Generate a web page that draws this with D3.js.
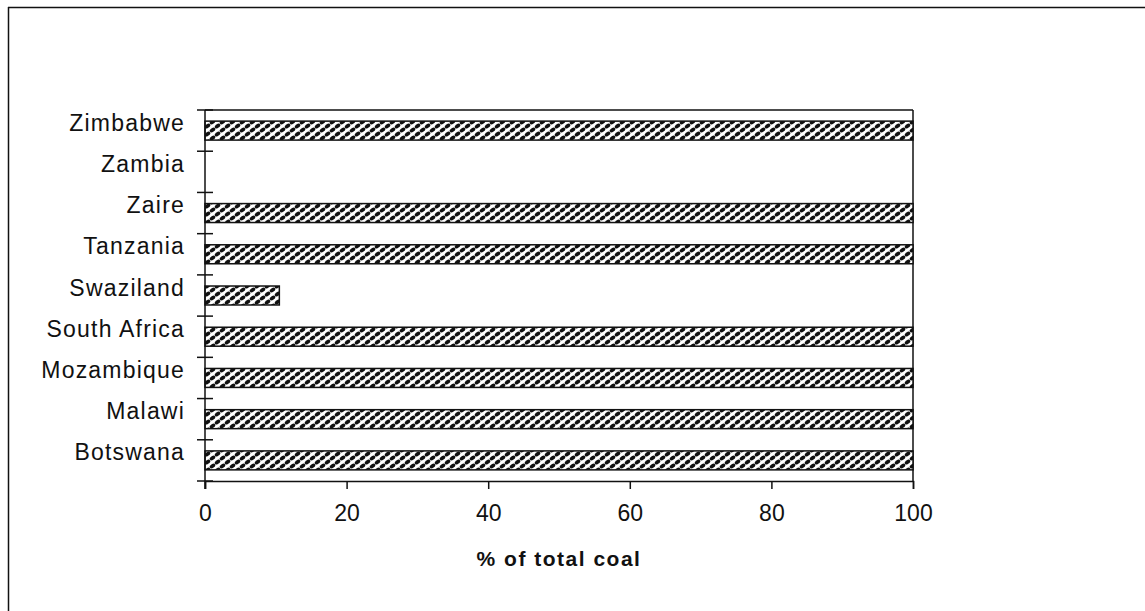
<!DOCTYPE html>
<meta charset="utf-8">
<script src="https://d3js.org/d3.v7.min.js"></script>
<style>
  body { margin: 0; background: #fff; }
  text { font-family: Arial, "Liberation Sans", sans-serif; }
</style>
<body>
<svg id="chart" width="1145" height="611"></svg>
<script>
// categories bottom to top, as in the picture
var countries = ["Botswana", "Malawi", "Mozambique", "South Africa", "Swaziland",
                 "Tanzania", "Zaire", "Zambia", "Zimbabwe"];
var coalShare = [100, 100, 100, 100, 10.5, 100, 100, 0, 100];
var xTicks = [0, 20, 40, 60, 80, 100];
var xTitle = "% of total coal";

var svg = d3.select("#chart");
var plotL = 205, plotR = 913, plotT = 110, plotB = 481;

// page frame (only top and left edges show in the scan)
svg.append("line").attr("x1", 8).attr("x2", 1145).attr("y1", 7.5).attr("y2", 7.5)
  .attr("stroke", "#111").attr("stroke-width", 1.5);
svg.append("line").attr("x1", 8.5).attr("x2", 8.5).attr("y1", 7).attr("y2", 611)
  .attr("stroke", "#111").attr("stroke-width", 1.5);

// weave-like fill of the bars
var defs = svg.append("defs");
var pat = defs.append("pattern").attr("id", "weave")
  .attr("width", 10).attr("height", 8).attr("patternUnits", "userSpaceOnUse");
pat.append("rect").attr("width", 10).attr("height", 8).attr("fill", "#fff");
[[2.5, 2], [7.5, 6], [-2.5, 6], [12.5, 2], [2.5, 10], [7.5, -2]].forEach(function(c) {
  pat.append("ellipse")
    .attr("cx", c[0]).attr("cy", c[1]).attr("rx", 3.1).attr("ry", 1.9)
    .attr("transform", "rotate(-35," + c[0] + "," + c[1] + ")")
    .attr("fill", "#111");
});

var x = d3.scaleLinear().domain([0, 100]).range([plotL, plotR]);
var y = d3.scaleBand().domain(countries.slice().reverse()).range([plotT, plotB])
  .paddingInner(0.54).paddingOuter(0.27);
var yb = d3.scaleBand().domain(countries.slice().reverse()).range([plotT, plotB]);

// plot area outline: top and right sides
svg.append("line").attr("x1", plotL).attr("x2", plotR).attr("y1", plotT).attr("y2", plotT)
  .attr("stroke", "#111").attr("stroke-width", 1.5);
svg.append("line").attr("x1", plotR).attr("x2", plotR).attr("y1", plotT).attr("y2", plotB)
  .attr("stroke", "#111").attr("stroke-width", 1.5);

// bars
svg.selectAll(".bar").data(countries).enter().append("rect")
  .attr("class", "bar")
  .attr("x", x(0))
  .attr("y", function(d) { return y(d); })
  .attr("width", function(d, i) { return x(coalShare[i]) - x(0); })
  .attr("height", y.bandwidth())
  .attr("fill", "url(#weave)")
  .attr("stroke", function(d, i) { return coalShare[i] > 0 ? "#111" : "none"; })
  .attr("stroke-width", 1.5);

// y axis: ticks at band boundaries, crossing the axis
var bounds = countries.map(function(d) { return yb(d); }).concat([plotB]);
svg.append("line").attr("x1", plotL).attr("x2", plotL).attr("y1", plotT).attr("y2", plotB + 8)
  .attr("stroke", "#111").attr("stroke-width", 1.5);
svg.selectAll(".ytick").data(bounds).enter().append("line")
  .attr("x1", plotL - 8).attr("x2", plotL + 8)
  .attr("y1", function(d) { return d; }).attr("y2", function(d) { return d; })
  .attr("stroke", "#111").attr("stroke-width", 1.5);
svg.selectAll(".ylab").data(countries).enter().append("text")
  .attr("x", 185)
  .attr("y", function(d) { return yb(d) + yb.bandwidth() / 2; })
  .attr("text-anchor", "end")
  .attr("font-size", 23)
  .attr("letter-spacing", 1.2)
  .attr("fill", "#111")
  .text(function(d) { return d; });

// x axis
svg.append("g").attr("transform", "translate(0," + plotB + ")")
  .call(d3.axisBottom(x).tickValues(xTicks).tickSize(8).tickPadding(16))
  .call(function(g) {
    g.select(".domain").attr("stroke", "#111").attr("stroke-width", 1.5);
    g.selectAll(".tick line").attr("stroke", "#111").attr("stroke-width", 1.5);
    g.selectAll("text").attr("font-size", 23).attr("fill", "#111")
      .attr("font-family", "Arial, 'Liberation Sans', sans-serif");
  });

svg.append("text")
  .attr("x", (plotL + plotR) / 2).attr("y", 566)
  .attr("text-anchor", "middle")
  .attr("font-size", 21).attr("font-weight", "bold").attr("letter-spacing", 1.5)
  .attr("fill", "#111")
  .text(xTitle);
</script>
</body>
